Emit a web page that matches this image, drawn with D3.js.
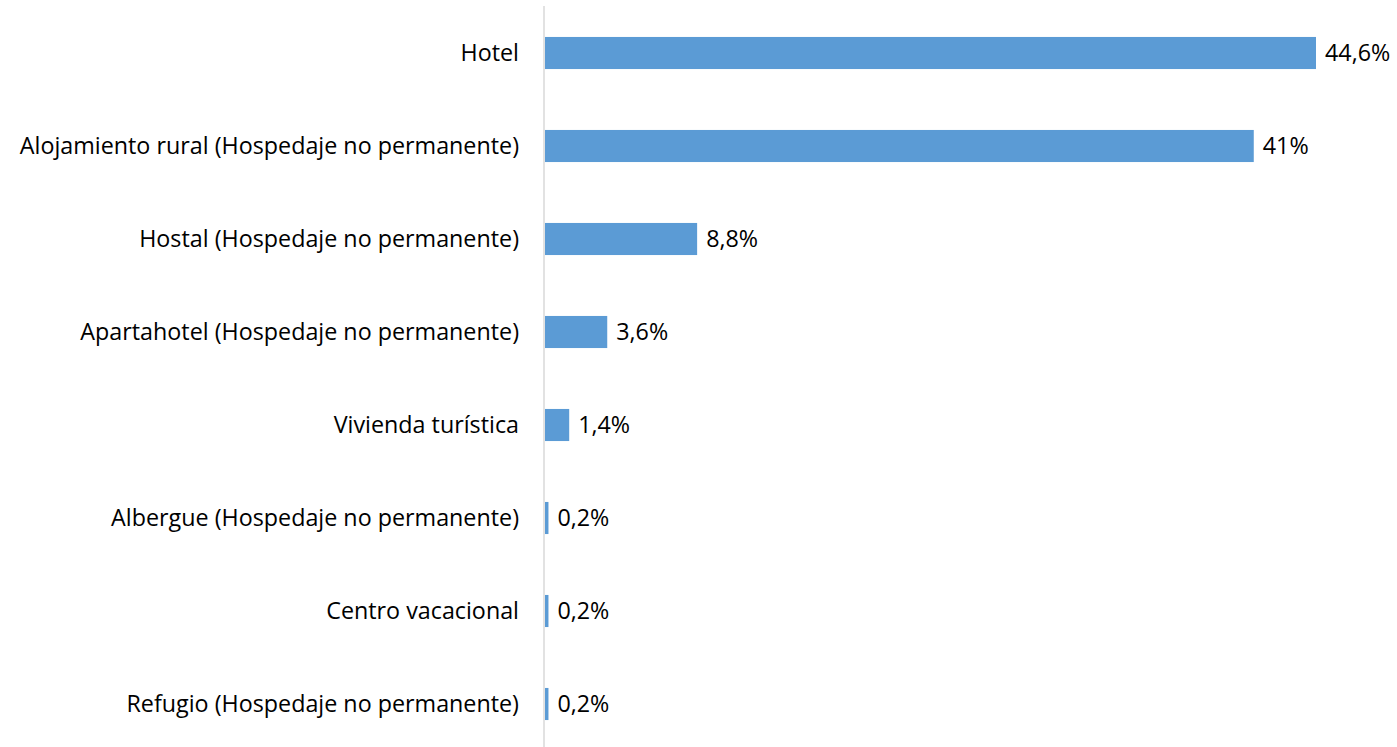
<!DOCTYPE html>
<html><head><meta charset="utf-8">
<script src="https://cdn.jsdelivr.net/npm/d3@7"></script>
<style>html,body{margin:0;padding:0;background:#fff;}svg{display:block;}</style>
</head><body>
<svg id="chart" width="1397" height="747"></svg>
<script>
const categories = [
  "Hotel",
  "Alojamiento rural (Hospedaje no permanente)",
  "Hostal (Hospedaje no permanente)",
  "Apartahotel (Hospedaje no permanente)",
  "Vivienda turística",
  "Albergue (Hospedaje no permanente)",
  "Centro vacacional",
  "Refugio (Hospedaje no permanente)"
];
const values = [44.6, 41, 8.8, 3.6, 1.4, 0.2, 0.2, 0.2];
const valueLabels = ["44,6%", "41%", "8,8%", "3,6%", "1,4%", "0,2%", "0,2%", "0,2%"];

const svg = d3.select("#chart");
const font = "'Open Sans', sans-serif";
const fs = 23.3;
const x = d3.scaleLinear().domain([0, 44.6]).range([545, 1316]);
const y = d3.scaleBand().domain(categories).range([6.5, 750.5]).paddingInner(0.655).paddingOuter(0.3275);

svg.selectAll("rect.bar").data(categories).join("rect")
  .attr("class", "bar")
  .attr("x", x(0))
  .attr("y", d => y(d))
  .attr("width", (d, i) => x(values[i]) - x(0))
  .attr("height", y.bandwidth())
  .attr("fill", "#5B9BD5");

svg.append("line").attr("x1", 544).attr("x2", 544).attr("y1", 6).attr("y2", 747)
  .attr("stroke", "#d9d9d9").attr("stroke-width", 1.5);

svg.selectAll("text.cat").data(categories).join("text")
  .attr("class", "cat")
  .attr("x", 519)
  .attr("y", d => y(d) + y.bandwidth() / 2)
  .attr("dy", "0.35em")
  .attr("text-anchor", "end")
  .attr("font-family", font).attr("font-size", fs).attr("fill", "#000")
  .text(d => d);

svg.selectAll("text.val").data(categories).join("text")
  .attr("class", "val")
  .attr("x", (d, i) => x(values[i]) + 9)
  .attr("y", d => y(d) + y.bandwidth() / 2)
  .attr("dy", "0.35em")
  .attr("font-family", font).attr("font-size", fs).attr("fill", "#000")
  .text((d, i) => valueLabels[i]);
</script>
</body></html>
